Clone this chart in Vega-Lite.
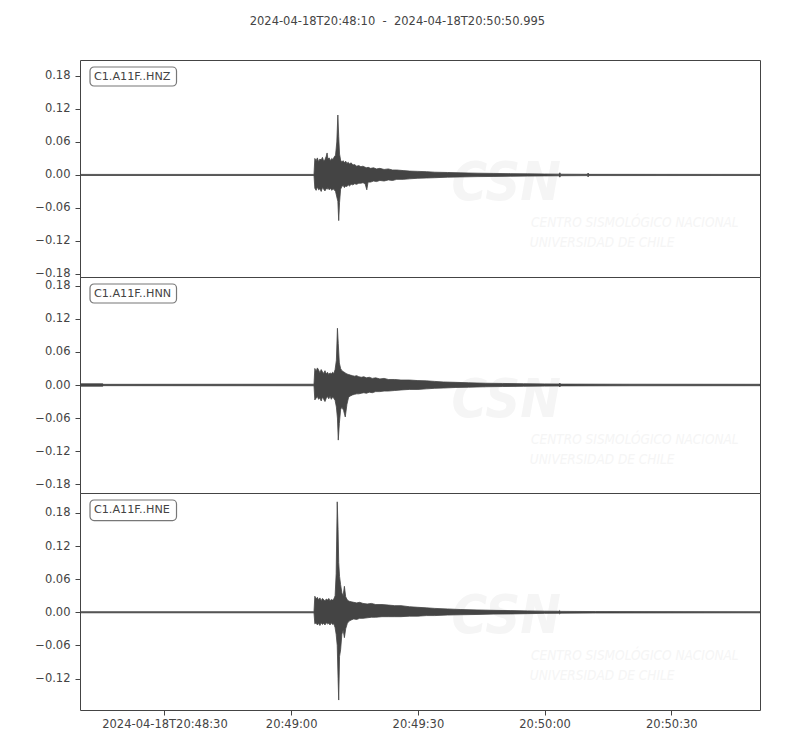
{
  "$schema": "https://vega.github.io/schema/vega-lite/v6.json",
  "background": "white",
  "padding": {"left": 34, "top": 16, "right": 40, "bottom": 20},
  "title": {
    "text": "2024-04-18T20:48:10\u00a0\u00a0-\u00a0\u00a02024-04-18T20:50:50.995",
    "font": "DejaVu Sans", "fontSize": 11.5, "fontWeight": "normal",
    "color": "#444444", "anchor": "middle", "offset": 32
  },
  "spacing": 0,
  "bounds": "flush",
  "resolve": {"scale": {"x": "independent", "y": "independent"}},
  "datasets": {
    "labels": [
      {"ch": "HNZ", "label": "C1.A11F..HNZ"},
      {"ch": "HNN", "label": "C1.A11F..HNN"},
      {"ch": "HNE", "label": "C1.A11F..HNE"}
    ],
    "trace": [
      {"ch":"HNZ","t":0,"hi":0.001,"lo":-0.001},
      {"ch":"HNZ","t":55.4,"hi":0.001,"lo":-0.001},
      {"ch":"HNZ","t":55.6,"hi":0.030,"lo":-0.024},
      {"ch":"HNZ","t":55.9,"hi":0.026,"lo":-0.028},
      {"ch":"HNZ","t":56.2,"hi":0.031,"lo":-0.022},
      {"ch":"HNZ","t":56.5,"hi":0.024,"lo":-0.027},
      {"ch":"HNZ","t":56.8,"hi":0.029,"lo":-0.025},
      {"ch":"HNZ","t":57.1,"hi":0.027,"lo":-0.030},
      {"ch":"HNZ","t":57.4,"hi":0.032,"lo":-0.023},
      {"ch":"HNZ","t":57.7,"hi":0.025,"lo":-0.026},
      {"ch":"HNZ","t":58.0,"hi":0.028,"lo":-0.029},
      {"ch":"HNZ","t":58.3,"hi":0.034,"lo":-0.024},
      {"ch":"HNZ","t":58.5,"hi":0.040,"lo":-0.026},
      {"ch":"HNZ","t":58.7,"hi":0.029,"lo":-0.023},
      {"ch":"HNZ","t":59.0,"hi":0.031,"lo":-0.027},
      {"ch":"HNZ","t":59.3,"hi":0.026,"lo":-0.024},
      {"ch":"HNZ","t":59.6,"hi":0.030,"lo":-0.028},
      {"ch":"HNZ","t":59.9,"hi":0.028,"lo":-0.025},
      {"ch":"HNZ","t":60.2,"hi":0.033,"lo":-0.027},
      {"ch":"HNZ","t":60.5,"hi":0.036,"lo":-0.030},
      {"ch":"HNZ","t":60.8,"hi":0.060,"lo":-0.040},
      {"ch":"HNZ","t":61.05,"hi":0.109,"lo":-0.048},
      {"ch":"HNZ","t":61.25,"hi":0.070,"lo":-0.083},
      {"ch":"HNZ","t":61.45,"hi":0.038,"lo":-0.050},
      {"ch":"HNZ","t":61.7,"hi":0.027,"lo":-0.026},
      {"ch":"HNZ","t":62.0,"hi":0.023,"lo":-0.021},
      {"ch":"HNZ","t":62.3,"hi":0.026,"lo":-0.019},
      {"ch":"HNZ","t":62.6,"hi":0.022,"lo":-0.023},
      {"ch":"HNZ","t":62.9,"hi":0.025,"lo":-0.020},
      {"ch":"HNZ","t":63.2,"hi":0.021,"lo":-0.021},
      {"ch":"HNZ","t":63.5,"hi":0.023,"lo":-0.018},
      {"ch":"HNZ","t":63.8,"hi":0.020,"lo":-0.020},
      {"ch":"HNZ","t":64.2,"hi":0.022,"lo":-0.017},
      {"ch":"HNZ","t":64.6,"hi":0.018,"lo":-0.018},
      {"ch":"HNZ","t":65.0,"hi":0.019,"lo":-0.016},
      {"ch":"HNZ","t":65.5,"hi":0.016,"lo":-0.017},
      {"ch":"HNZ","t":66.0,"hi":0.017,"lo":-0.015},
      {"ch":"HNZ","t":66.5,"hi":0.015,"lo":-0.015},
      {"ch":"HNZ","t":67.0,"hi":0.016,"lo":-0.014},
      {"ch":"HNZ","t":67.5,"hi":0.014,"lo":-0.016},
      {"ch":"HNZ","t":67.9,"hi":0.013,"lo":-0.027},
      {"ch":"HNZ","t":68.2,"hi":0.014,"lo":-0.013},
      {"ch":"HNZ","t":68.8,"hi":0.012,"lo":-0.013},
      {"ch":"HNZ","t":69.5,"hi":0.013,"lo":-0.011},
      {"ch":"HNZ","t":70.2,"hi":0.011,"lo":-0.012},
      {"ch":"HNZ","t":71.0,"hi":0.012,"lo":-0.010},
      {"ch":"HNZ","t":72.0,"hi":0.010,"lo":-0.011},
      {"ch":"HNZ","t":73.0,"hi":0.011,"lo":-0.009},
      {"ch":"HNZ","t":74.0,"hi":0.009,"lo":-0.010},
      {"ch":"HNZ","t":75.0,"hi":0.009,"lo":-0.008},
      {"ch":"HNZ","t":76.5,"hi":0.008,"lo":-0.008},
      {"ch":"HNZ","t":78.0,"hi":0.007,"lo":-0.007},
      {"ch":"HNZ","t":80.0,"hi":0.0065,"lo":-0.006},
      {"ch":"HNZ","t":82.0,"hi":0.006,"lo":-0.0055},
      {"ch":"HNZ","t":84.0,"hi":0.005,"lo":-0.005},
      {"ch":"HNZ","t":87.0,"hi":0.0045,"lo":-0.004},
      {"ch":"HNZ","t":90.0,"hi":0.0038,"lo":-0.0036},
      {"ch":"HNZ","t":94.0,"hi":0.0032,"lo":-0.003},
      {"ch":"HNZ","t":98.0,"hi":0.0028,"lo":-0.0027},
      {"ch":"HNZ","t":102.0,"hi":0.0024,"lo":-0.0023},
      {"ch":"HNZ","t":106.0,"hi":0.002,"lo":-0.002},
      {"ch":"HNZ","t":110.0,"hi":0.0017,"lo":-0.0017},
      {"ch":"HNZ","t":113.4,"hi":0.0015,"lo":-0.0015},
      {"ch":"HNZ","t":113.6,"hi":0.004,"lo":-0.004},
      {"ch":"HNZ","t":113.8,"hi":0.0014,"lo":-0.0014},
      {"ch":"HNZ","t":120.1,"hi":0.0012,"lo":-0.0012},
      {"ch":"HNZ","t":120.3,"hi":0.0035,"lo":-0.0035},
      {"ch":"HNZ","t":120.5,"hi":0.0011,"lo":-0.0011},
      {"ch":"HNZ","t":160.995,"hi":0.001,"lo":-0.001},

      {"ch":"HNN","t":0,"hi":0.0022,"lo":-0.0022},
      {"ch":"HNN","t":5.4,"hi":0.0022,"lo":-0.0022},
      {"ch":"HNN","t":5.6,"hi":0.0012,"lo":-0.0012},
      {"ch":"HNN","t":55.4,"hi":0.0014,"lo":-0.0014},
      {"ch":"HNN","t":55.6,"hi":0.030,"lo":-0.027},
      {"ch":"HNN","t":55.9,"hi":0.025,"lo":-0.024},
      {"ch":"HNN","t":56.2,"hi":0.031,"lo":-0.021},
      {"ch":"HNN","t":56.5,"hi":0.027,"lo":-0.026},
      {"ch":"HNN","t":56.8,"hi":0.022,"lo":-0.023},
      {"ch":"HNN","t":57.1,"hi":0.028,"lo":-0.029},
      {"ch":"HNN","t":57.4,"hi":0.024,"lo":-0.022},
      {"ch":"HNN","t":57.7,"hi":0.021,"lo":-0.026},
      {"ch":"HNN","t":58.0,"hi":0.026,"lo":-0.030},
      {"ch":"HNN","t":58.3,"hi":0.020,"lo":-0.024},
      {"ch":"HNN","t":58.6,"hi":0.023,"lo":-0.021},
      {"ch":"HNN","t":58.9,"hi":0.019,"lo":-0.025},
      {"ch":"HNN","t":59.2,"hi":0.022,"lo":-0.020},
      {"ch":"HNN","t":59.5,"hi":0.020,"lo":-0.026},
      {"ch":"HNN","t":59.8,"hi":0.023,"lo":-0.022},
      {"ch":"HNN","t":60.1,"hi":0.021,"lo":-0.024},
      {"ch":"HNN","t":60.4,"hi":0.028,"lo":-0.028},
      {"ch":"HNN","t":60.7,"hi":0.045,"lo":-0.040},
      {"ch":"HNN","t":60.95,"hi":0.103,"lo":-0.060},
      {"ch":"HNN","t":61.15,"hi":0.075,"lo":-0.100},
      {"ch":"HNN","t":61.4,"hi":0.040,"lo":-0.070},
      {"ch":"HNN","t":61.7,"hi":0.030,"lo":-0.045},
      {"ch":"HNN","t":62.0,"hi":0.026,"lo":-0.040},
      {"ch":"HNN","t":62.4,"hi":0.024,"lo":-0.046},
      {"ch":"HNN","t":62.8,"hi":0.022,"lo":-0.058},
      {"ch":"HNN","t":63.2,"hi":0.020,"lo":-0.035},
      {"ch":"HNN","t":63.6,"hi":0.019,"lo":-0.022},
      {"ch":"HNN","t":64.0,"hi":0.018,"lo":-0.020},
      {"ch":"HNN","t":64.5,"hi":0.017,"lo":-0.018},
      {"ch":"HNN","t":65.0,"hi":0.016,"lo":-0.017},
      {"ch":"HNN","t":65.5,"hi":0.017,"lo":-0.016},
      {"ch":"HNN","t":66.0,"hi":0.015,"lo":-0.016},
      {"ch":"HNN","t":66.6,"hi":0.014,"lo":-0.015},
      {"ch":"HNN","t":67.2,"hi":0.015,"lo":-0.014},
      {"ch":"HNN","t":67.8,"hi":0.013,"lo":-0.015},
      {"ch":"HNN","t":68.5,"hi":0.014,"lo":-0.013},
      {"ch":"HNN","t":69.2,"hi":0.012,"lo":-0.014},
      {"ch":"HNN","t":70.0,"hi":0.013,"lo":-0.012},
      {"ch":"HNN","t":71.0,"hi":0.011,"lo":-0.012},
      {"ch":"HNN","t":72.0,"hi":0.012,"lo":-0.011},
      {"ch":"HNN","t":73.0,"hi":0.010,"lo":-0.011},
      {"ch":"HNN","t":74.5,"hi":0.010,"lo":-0.010},
      {"ch":"HNN","t":76.0,"hi":0.009,"lo":-0.009},
      {"ch":"HNN","t":78.0,"hi":0.009,"lo":-0.008},
      {"ch":"HNN","t":80.0,"hi":0.008,"lo":-0.008},
      {"ch":"HNN","t":82.0,"hi":0.0075,"lo":-0.007},
      {"ch":"HNN","t":84.0,"hi":0.0065,"lo":-0.006},
      {"ch":"HNN","t":86.0,"hi":0.0055,"lo":-0.0055},
      {"ch":"HNN","t":89.0,"hi":0.0048,"lo":-0.0045},
      {"ch":"HNN","t":92.0,"hi":0.004,"lo":-0.004},
      {"ch":"HNN","t":96.0,"hi":0.0032,"lo":-0.0032},
      {"ch":"HNN","t":100.0,"hi":0.0028,"lo":-0.0028},
      {"ch":"HNN","t":105.0,"hi":0.0023,"lo":-0.0023},
      {"ch":"HNN","t":110.0,"hi":0.002,"lo":-0.002},
      {"ch":"HNN","t":113.4,"hi":0.0018,"lo":-0.0018},
      {"ch":"HNN","t":113.6,"hi":0.0035,"lo":-0.0035},
      {"ch":"HNN","t":113.8,"hi":0.0016,"lo":-0.0016},
      {"ch":"HNN","t":130.0,"hi":0.0014,"lo":-0.0014},
      {"ch":"HNN","t":160.995,"hi":0.0013,"lo":-0.0013},

      {"ch":"HNE","t":0,"hi":0.001,"lo":-0.001},
      {"ch":"HNE","t":55.4,"hi":0.001,"lo":-0.001},
      {"ch":"HNE","t":55.6,"hi":0.029,"lo":-0.021},
      {"ch":"HNE","t":55.9,"hi":0.024,"lo":-0.019},
      {"ch":"HNE","t":56.2,"hi":0.027,"lo":-0.023},
      {"ch":"HNE","t":56.5,"hi":0.022,"lo":-0.020},
      {"ch":"HNE","t":56.8,"hi":0.026,"lo":-0.024},
      {"ch":"HNE","t":57.1,"hi":0.021,"lo":-0.019},
      {"ch":"HNE","t":57.4,"hi":0.025,"lo":-0.022},
      {"ch":"HNE","t":57.7,"hi":0.023,"lo":-0.020},
      {"ch":"HNE","t":58.0,"hi":0.020,"lo":-0.023},
      {"ch":"HNE","t":58.3,"hi":0.024,"lo":-0.019},
      {"ch":"HNE","t":58.6,"hi":0.022,"lo":-0.021},
      {"ch":"HNE","t":58.9,"hi":0.025,"lo":-0.020},
      {"ch":"HNE","t":59.2,"hi":0.021,"lo":-0.023},
      {"ch":"HNE","t":59.5,"hi":0.023,"lo":-0.019},
      {"ch":"HNE","t":59.8,"hi":0.022,"lo":-0.022},
      {"ch":"HNE","t":60.1,"hi":0.024,"lo":-0.021},
      {"ch":"HNE","t":60.4,"hi":0.030,"lo":-0.028},
      {"ch":"HNE","t":60.65,"hi":0.070,"lo":-0.040},
      {"ch":"HNE","t":60.9,"hi":0.200,"lo":-0.060},
      {"ch":"HNE","t":61.1,"hi":0.150,"lo":-0.120},
      {"ch":"HNE","t":61.25,"hi":0.090,"lo":-0.159},
      {"ch":"HNE","t":61.45,"hi":0.065,"lo":-0.080},
      {"ch":"HNE","t":61.7,"hi":0.050,"lo":-0.068},
      {"ch":"HNE","t":62.0,"hi":0.035,"lo":-0.040},
      {"ch":"HNE","t":62.3,"hi":0.030,"lo":-0.032},
      {"ch":"HNE","t":62.6,"hi":0.047,"lo":-0.046},
      {"ch":"HNE","t":62.9,"hi":0.028,"lo":-0.030},
      {"ch":"HNE","t":63.3,"hi":0.022,"lo":-0.020},
      {"ch":"HNE","t":63.7,"hi":0.020,"lo":-0.016},
      {"ch":"HNE","t":64.2,"hi":0.019,"lo":-0.014},
      {"ch":"HNE","t":64.8,"hi":0.018,"lo":-0.012},
      {"ch":"HNE","t":65.5,"hi":0.017,"lo":-0.013},
      {"ch":"HNE","t":66.2,"hi":0.018,"lo":-0.011},
      {"ch":"HNE","t":67.0,"hi":0.016,"lo":-0.011},
      {"ch":"HNE","t":68.0,"hi":0.015,"lo":-0.010},
      {"ch":"HNE","t":69.0,"hi":0.016,"lo":-0.009},
      {"ch":"HNE","t":70.0,"hi":0.014,"lo":-0.009},
      {"ch":"HNE","t":71.5,"hi":0.014,"lo":-0.008},
      {"ch":"HNE","t":73.0,"hi":0.013,"lo":-0.008},
      {"ch":"HNE","t":74.5,"hi":0.012,"lo":-0.008},
      {"ch":"HNE","t":76.0,"hi":0.012,"lo":-0.008},
      {"ch":"HNE","t":78.0,"hi":0.010,"lo":-0.007},
      {"ch":"HNE","t":80.0,"hi":0.009,"lo":-0.007},
      {"ch":"HNE","t":82.0,"hi":0.008,"lo":-0.006},
      {"ch":"HNE","t":84.0,"hi":0.007,"lo":-0.006},
      {"ch":"HNE","t":87.0,"hi":0.006,"lo":-0.005},
      {"ch":"HNE","t":90.0,"hi":0.005,"lo":-0.0045},
      {"ch":"HNE","t":94.0,"hi":0.0042,"lo":-0.004},
      {"ch":"HNE","t":98.0,"hi":0.0035,"lo":-0.0033},
      {"ch":"HNE","t":102.0,"hi":0.003,"lo":-0.003},
      {"ch":"HNE","t":106.0,"hi":0.0025,"lo":-0.0025},
      {"ch":"HNE","t":110.0,"hi":0.002,"lo":-0.002},
      {"ch":"HNE","t":113.4,"hi":0.0018,"lo":-0.0018},
      {"ch":"HNE","t":113.6,"hi":0.003,"lo":-0.003},
      {"ch":"HNE","t":113.8,"hi":0.0016,"lo":-0.0016},
      {"ch":"HNE","t":122.0,"hi":0.0013,"lo":-0.0013},
      {"ch":"HNE","t":160.995,"hi":0.001,"lo":-0.001}
    ]
  },
  "vconcat": [
    {
      "width": 680, "height": 217,
      "layer": [
        {"data": {"values": [{"w": "CSN"}]}, "mark": {"type": "text", "font": "DejaVu Sans Condensed", "fontSize": 54, "fontWeight": "bold", "fontStyle": "italic", "color": "#f5f5f5"},
         "encoding": {"text": {"field": "w"}, "x": {"datum": 100.9, "type": "quantitative"}, "y": {"datum": -0.0164, "type": "quantitative"}}},
        {"data": {"values": [{"w": "CENTRO SISMOLÓGICO NACIONAL"}]}, "mark": {"type": "text", "font": "DejaVu Sans Condensed", "fontSize": 13.5, "fontStyle": "italic", "align": "left", "color": "#f5f5f5"},
         "encoding": {"text": {"field": "w"}, "x": {"datum": 106.8, "type": "quantitative"}, "y": {"datum": -0.0873, "type": "quantitative"}}},
        {"data": {"values": [{"w": "UNIVERSIDAD DE CHILE"}]}, "mark": {"type": "text", "font": "DejaVu Sans Condensed", "fontSize": 13.5, "fontStyle": "italic", "align": "left", "color": "#f5f5f5"},
         "encoding": {"text": {"field": "w"}, "x": {"datum": 106.5, "type": "quantitative"}, "y": {"datum": -0.1237, "type": "quantitative"}}},
        {"data": {"name": "trace"}, "transform": [{"filter": "datum.ch === 'HNZ'"}],
         "mark": {"type": "area", "color": "#444444", "stroke": "#444444", "strokeWidth": 0.8, "clip": true},
         "encoding": {
           "x": {"field": "t", "type": "quantitative", "scale": {"domain": [0, 160.995], "nice": false, "zero": false}, "axis": null},
           "y": {"field": "hi", "type": "quantitative", "scale": {"domain": [-0.1855, 0.209], "nice": false, "zero": false},
                 "axis": {"values": [-0.18, -0.12, -0.06, 0, 0.06, 0.12, 0.18], "tickCount": 20, "labelExpr": "replace(format(datum.value, '.2f'), '-', '\u2212')"}},
           "y2": {"field": "lo"}}},
        {"data": {"name": "labels"}, "transform": [{"filter": "datum.ch === 'HNZ'"}],
         "mark": {"type": "rect", "fill": "white", "stroke": "#777777", "strokeWidth": 1.2, "cornerRadius": 4},
         "encoding": {"x": {"datum": 2.37, "type": "quantitative"}, "x2": {"datum": 22.85}, "y": {"datum": 0.1963, "type": "quantitative"}, "y2": {"datum": 0.1617}}},
        {"data": {"name": "labels"}, "transform": [{"filter": "datum.ch === 'HNZ'"}],
         "mark": {"type": "text", "font": "DejaVu Sans", "fontSize": 11.2, "align": "left", "baseline": "middle", "color": "#444444"},
         "encoding": {"text": {"field": "label"}, "x": {"datum": 3.3, "type": "quantitative"}, "y": {"datum": 0.179, "type": "quantitative"}}}
      ]
    },
    {
      "width": 680, "height": 216,
      "layer": [
        {"data": {"values": [{"w": "CSN"}]}, "mark": {"type": "text", "font": "DejaVu Sans Condensed", "fontSize": 54, "fontWeight": "bold", "fontStyle": "italic", "color": "#f5f5f5"},
         "encoding": {"text": {"field": "w"}, "x": {"datum": 100.9, "type": "quantitative"}, "y": {"datum": -0.029, "type": "quantitative"}}},
        {"data": {"values": [{"w": "CENTRO SISMOLÓGICO NACIONAL"}]}, "mark": {"type": "text", "font": "DejaVu Sans Condensed", "fontSize": 13.5, "fontStyle": "italic", "align": "left", "color": "#f5f5f5"},
         "encoding": {"text": {"field": "w"}, "x": {"datum": 106.8, "type": "quantitative"}, "y": {"datum": -0.0998, "type": "quantitative"}}},
        {"data": {"values": [{"w": "UNIVERSIDAD DE CHILE"}]}, "mark": {"type": "text", "font": "DejaVu Sans Condensed", "fontSize": 13.5, "fontStyle": "italic", "align": "left", "color": "#f5f5f5"},
         "encoding": {"text": {"field": "w"}, "x": {"datum": 106.5, "type": "quantitative"}, "y": {"datum": -0.1362, "type": "quantitative"}}},
        {"data": {"name": "trace"}, "transform": [{"filter": "datum.ch === 'HNN'"}],
         "mark": {"type": "area", "color": "#444444", "stroke": "#444444", "strokeWidth": 0.8, "clip": true},
         "encoding": {
           "x": {"field": "t", "type": "quantitative", "scale": {"domain": [0, 160.995], "nice": false, "zero": false}, "axis": null},
           "y": {"field": "hi", "type": "quantitative", "scale": {"domain": [-0.196, 0.196], "nice": false, "zero": false},
                 "axis": {"values": [-0.18, -0.12, -0.06, 0, 0.06, 0.12, 0.18], "tickCount": 20, "labelExpr": "replace(format(datum.value, '.2f'), '-', '\u2212')"}},
           "y2": {"field": "lo"}}},
        {"data": {"name": "labels"}, "transform": [{"filter": "datum.ch === 'HNN'"}],
         "mark": {"type": "rect", "fill": "white", "stroke": "#777777", "strokeWidth": 1.2, "cornerRadius": 4},
         "encoding": {"x": {"datum": 2.37, "type": "quantitative"}, "x2": {"datum": 22.85}, "y": {"datum": 0.1833, "type": "quantitative"}, "y2": {"datum": 0.1488}}},
        {"data": {"name": "labels"}, "transform": [{"filter": "datum.ch === 'HNN'"}],
         "mark": {"type": "text", "font": "DejaVu Sans", "fontSize": 11.2, "align": "left", "baseline": "middle", "color": "#444444"},
         "encoding": {"text": {"field": "label"}, "x": {"datum": 3.3, "type": "quantitative"}, "y": {"datum": 0.166, "type": "quantitative"}}}
      ]
    },
    {
      "width": 680, "height": 217,
      "layer": [
        {"data": {"values": [{"w": "CSN"}]}, "mark": {"type": "text", "font": "DejaVu Sans Condensed", "fontSize": 54, "fontWeight": "bold", "fontStyle": "italic", "color": "#f5f5f5"},
         "encoding": {"text": {"field": "w"}, "x": {"datum": 100.9, "type": "quantitative"}, "y": {"datum": -0.0086, "type": "quantitative"}}},
        {"data": {"values": [{"w": "CENTRO SISMOLÓGICO NACIONAL"}]}, "mark": {"type": "text", "font": "DejaVu Sans Condensed", "fontSize": 13.5, "fontStyle": "italic", "align": "left", "color": "#f5f5f5"},
         "encoding": {"text": {"field": "w"}, "x": {"datum": 106.8, "type": "quantitative"}, "y": {"datum": -0.0792, "type": "quantitative"}}},
        {"data": {"values": [{"w": "UNIVERSIDAD DE CHILE"}]}, "mark": {"type": "text", "font": "DejaVu Sans Condensed", "fontSize": 13.5, "fontStyle": "italic", "align": "left", "color": "#f5f5f5"},
         "encoding": {"text": {"field": "w"}, "x": {"datum": 106.5, "type": "quantitative"}, "y": {"datum": -0.1154, "type": "quantitative"}}},
        {"data": {"name": "trace"}, "transform": [{"filter": "datum.ch === 'HNE'"}],
         "mark": {"type": "area", "color": "#444444", "stroke": "#444444", "strokeWidth": 0.8, "clip": true},
         "encoding": {
           "x": {"field": "t", "type": "quantitative", "scale": {"domain": [0, 160.995], "nice": false, "zero": false},
                 "axis": {"values": [20, 50, 80, 110, 140], "tickCount": 20, "tickSize": 5, "labelPadding": 3, "labelExpr": "datum.value === 20 ? '2024-04-18T20:48:30' : utcFormat(1713473290000 + datum.value * 1000, '%H:%M:%S')"}},
           "y": {"field": "hi", "type": "quantitative", "scale": {"domain": [-0.177, 0.216], "nice": false, "zero": false},
                 "axis": {"values": [-0.12, -0.06, 0, 0.06, 0.12, 0.18], "tickCount": 20, "labelExpr": "replace(format(datum.value, '.2f'), '-', '\u2212')"}},
           "y2": {"field": "lo"}}},
        {"data": {"name": "labels"}, "transform": [{"filter": "datum.ch === 'HNE'"}],
         "mark": {"type": "rect", "fill": "white", "stroke": "#777777", "strokeWidth": 1.2, "cornerRadius": 4},
         "encoding": {"x": {"datum": 2.37, "type": "quantitative"}, "x2": {"datum": 22.85}, "y": {"datum": 0.2033, "type": "quantitative"}, "y2": {"datum": 0.166}}},
        {"data": {"name": "labels"}, "transform": [{"filter": "datum.ch === 'HNE'"}],
         "mark": {"type": "text", "font": "DejaVu Sans", "fontSize": 11.2, "align": "left", "baseline": "middle", "color": "#444444"},
         "encoding": {"text": {"field": "label"}, "x": {"datum": 3.3, "type": "quantitative"}, "y": {"datum": 0.1847, "type": "quantitative"}}}
      ]
    }
  ],
  "config": {
    "view": {"stroke": "#444444", "strokeWidth": 1},
    "axis": {
      "title": null, "grid": false, "domain": false,
      "labelFont": "DejaVu Sans", "labelFontSize": 11.5, "labelColor": "#444444",
      "labelOverlap": false, "labelFlush": false,
      "tickColor": "#444444", "tickSize": 5, "labelPadding": 5
    }
  }
}
